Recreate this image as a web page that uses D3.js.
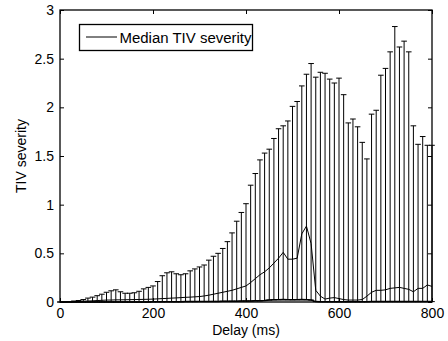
<!DOCTYPE html>
<html>
<head>
<meta charset="utf-8">
<script src="https://cdn.jsdelivr.net/npm/d3@7"></script>
<style>
  body { margin: 0; background: #fff; }
  text { font-family: "Liberation Sans", Arial, sans-serif; fill: #000; }
</style>
</head>
<body>
<div id="chart"></div>
<script>
// delay in ms, one error bar every 10 ms
var delays = d3.range(0, 801, 10);

var upper = [0, 0, 0.005, 0.01, 0.015, 0.025, 0.04, 0.05, 0.065, 0.08,
  0.10, 0.115, 0.125, 0.105, 0.09, 0.09, 0.095, 0.11, 0.135, 0.15,
  0.165, 0.21, 0.27, 0.30, 0.31, 0.29, 0.28, 0.29, 0.32, 0.34,
  0.36, 0.38, 0.43, 0.47, 0.50, 0.55, 0.62, 0.71, 0.83, 0.92,
  1.01, 1.20, 1.32, 1.46, 1.53, 1.57, 1.68, 1.78, 1.81, 1.86,
  2.01, 2.06, 2.22, 2.34, 2.45, 2.31, 2.36, 2.35, 2.29, 2.25,
  2.30, 2.13, 1.84, 1.88, 1.80, 1.64, 1.47, 1.93, 1.97, 2.33,
  2.40, 2.57, 2.83, 2.62, 2.68, 2.57, 1.81, 1.62, 1.70, 1.61,
  1.61];

var median = [0, 0, 0, 0.002, 0.005, 0.008, 0.01, 0.012, 0.015, 0.017,
  0.02, 0.02, 0.022, 0.022, 0.023, 0.024, 0.025, 0.026, 0.027, 0.028,
  0.03, 0.032, 0.035, 0.037, 0.04, 0.042, 0.045, 0.048, 0.05, 0.053,
  0.056, 0.062, 0.07, 0.08, 0.09, 0.10, 0.11, 0.12, 0.135, 0.15,
  0.165, 0.2, 0.24, 0.28, 0.31, 0.35, 0.40, 0.45, 0.51, 0.44,
  0.44, 0.45, 0.70, 0.78, 0.60, 0.12, 0.06, 0.03, 0.04, 0.045,
  0.035, 0.025, 0.02, 0.02, 0.02, 0.025, 0.06, 0.10, 0.12, 0.12,
  0.125, 0.14, 0.145, 0.15, 0.14, 0.13, 0.105, 0.14, 0.14, 0.175,
  0.16];

var lower = [0, 0, 0, 0, 0, 0, 0, 0, 0, 0,
  0, 0, 0, 0, 0, 0, 0, 0, 0, 0,
  0.002, 0.002, 0.002, 0.003, 0.003, 0.003, 0.003, 0.004, 0.004, 0.004,
  0.005, 0.005, 0.005, 0.006, 0.006, 0.007, 0.007, 0.008, 0.008, 0.009,
  0.01, 0.01, 0.012, 0.012, 0.015, 0.02, 0.022, 0.024, 0.025, 0.024,
  0.023, 0.024, 0.025, 0.024, 0.02, 0.004, 0.003, 0.003, 0.003, 0.003,
  0.003, 0.003, 0.003, 0.003, 0.003, 0.003, 0.003, 0.004, 0.004, 0.004,
  0.004, 0.004, 0.004, 0.004, 0.004, 0.004, 0.004, 0.004, 0.004, 0.004,
  0.004];

var xTicks = [0, 200, 400, 600, 800];
var yTicks = [0, 0.5, 1, 1.5, 2, 2.5, 3];
var legendLabel = "Median TIV severity";

var svgWidth = 448;
var svgHeight = 341;
var margin = { top: 10, right: 16, bottom: 39, left: 60 };
var width = svgWidth - margin.left - margin.right;
var height = svgHeight - margin.top - margin.bottom;

var svg = d3.select("#chart").append("svg")
  .attr("width", svgWidth)
  .attr("height", svgHeight);

var g = svg.append("g")
  .attr("transform", `translate(${margin.left}, ${margin.top})`);

var x = d3.scaleLinear().domain([0, 800]).range([0, width]);
var y = d3.scaleLinear().domain([0, 3]).range([height, 0]);

var data = delays.map(function(d, i) {
  return { delay: d, hi: upper[i], med: median[i], lo: lower[i] };
});

// error bars
var capW = 2.8;
var bars = g.append("g").attr("stroke", "#000").attr("stroke-width", 1);
bars.selectAll("line.v").data(data).enter().append("line")
  .attr("class", "v")
  .attr("x1", d => x(d.delay)).attr("x2", d => x(d.delay))
  .attr("y1", d => y(d.lo)).attr("y2", d => y(d.hi));
bars.selectAll("line.cap").data(data).enter().append("line")
  .attr("class", "cap")
  .attr("x1", d => x(d.delay) - capW).attr("x2", d => x(d.delay) + capW)
  .attr("y1", d => y(d.hi)).attr("y2", d => y(d.hi));
bars.selectAll("line.lcap").data(data).enter().append("line")
  .attr("class", "lcap")
  .attr("x1", d => x(d.delay) - capW).attr("x2", d => x(d.delay) + capW)
  .attr("y1", d => y(d.lo)).attr("y2", d => y(d.lo));

// median and lower lines
var line = d3.line().x(d => x(d.delay));
g.append("path").datum(data)
  .attr("fill", "none").attr("stroke", "#000").attr("stroke-width", 1)
  .attr("d", line.y(d => y(d.med)));
g.append("path").datum(data)
  .attr("fill", "none").attr("stroke", "#000").attr("stroke-width", 1.5)
  .attr("d", d3.line().x(d => x(d.delay)).y(d => y(d.lo)));

// axes, matlab style box with inward ticks
var tick = 4;
g.append("g")
  .attr("transform", `translate(0, ${height})`)
  .call(d3.axisBottom(x).tickValues(xTicks).tickSizeInner(-tick).tickSizeOuter(0).tickPadding(6))
  .call(a => a.select(".domain").remove());
g.append("g")
  .call(d3.axisTop(x).tickValues(xTicks).tickSizeInner(-tick).tickSizeOuter(0).tickFormat(""))
  .call(a => a.select(".domain").remove());
g.append("g")
  .call(d3.axisLeft(y).tickValues(yTicks).tickSizeInner(-tick).tickSizeOuter(0).tickPadding(6).tickFormat(d3.format("")))
  .call(a => a.select(".domain").remove());
g.append("g")
  .attr("transform", `translate(${width}, 0)`)
  .call(d3.axisRight(y).tickValues(yTicks).tickSizeInner(-tick).tickSizeOuter(0).tickFormat(""))
  .call(a => a.select(".domain").remove());

g.selectAll(".tick text").style("font-size", "14px").style("font-family", "Liberation Sans, Arial, sans-serif");
g.selectAll(".tick line").attr("stroke", "#000");

g.append("rect")
  .attr("width", width).attr("height", height)
  .attr("fill", "none").attr("stroke", "#000").attr("stroke-width", 1.3);

// axis labels
svg.append("text")
  .attr("x", margin.left + width / 2).attr("y", 335)
  .attr("text-anchor", "middle").style("font-size", "14px")
  .text("Delay (ms)");
svg.append("text")
  .attr("transform", "translate(26, 156) rotate(-90)")
  .attr("text-anchor", "middle").style("font-size", "14px")
  .text("TIV severity");

// legend
var lg = svg.append("g");
lg.append("rect")
  .attr("x", 79.5).attr("y", 24.5).attr("width", 173).attr("height", 26)
  .attr("fill", "#fff").attr("stroke", "#000").attr("stroke-width", 1.3);
lg.append("line")
  .attr("x1", 86).attr("x2", 117).attr("y1", 37).attr("y2", 37)
  .attr("stroke", "#000").attr("stroke-width", 1);
lg.append("text")
  .attr("x", 119.5).attr("y", 42.5)
  .style("font-size", "14px")
  .attr("textLength", 132).attr("lengthAdjust", "spacingAndGlyphs")
  .text(legendLabel);
</script>
</body>
</html>
